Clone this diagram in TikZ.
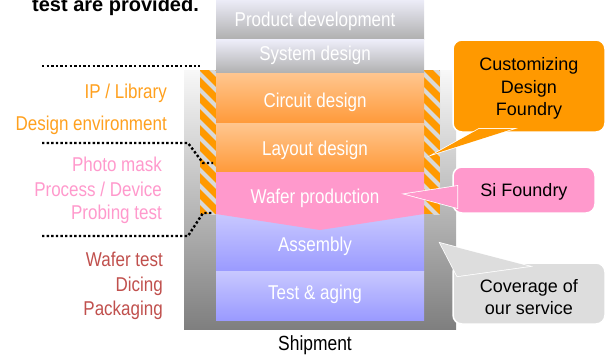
\documentclass[tikz,border=0pt]{standalone}
\usepackage{fontspec}
\setmainfont{Liberation Sans}
\newfontfamily\narrowsans{Liberation Sans}[FakeStretch=0.85]
\usetikzlibrary{calc}
\definecolor{steplight}{HTML}{EFEFFB}
\definecolor{stepgray}{HTML}{B0B0B0}
\definecolor{designlight}{HTML}{FFC68F}
\definecolor{designorange}{HTML}{FF9A3A}
\definecolor{waferpink}{HTML}{FF99CC}
\definecolor{backlight}{HTML}{C8C8FF}
\definecolor{backblue}{HTML}{9A9AFF}
\definecolor{covtop}{HTML}{F8F8F8}
\definecolor{covbottom}{HTML}{7F7F7F}
\definecolor{hatchorange}{HTML}{FF9900}
\definecolor{hatchgray}{HTML}{D9D9D9}
\definecolor{ipcolor}{HTML}{FFA01E}
\definecolor{maskcolor}{HTML}{FF99CC}
\definecolor{pkgcolor}{HTML}{C0504D}
\definecolor{calloutgray}{HTML}{DDDDDD}
\begin{document}
\begin{tikzpicture}[x=1pt,y=-1pt,
  bigtext/.style={font=\narrowsans\fontsize{20}{24}\selectfont, inner sep=0pt},
  stagelabel/.style={bigtext, text=white, anchor=base},
  sidelabel/.style={bigtext, anchor=base east},
  calltext/.style={font=\fontsize{18}{22.3}\selectfont, inner sep=0pt, align=center},
  callbox/.style={draw=white, line width=1.5pt, rounded corners=9pt, inner sep=0pt},
  wedgeline/.style={draw=white, line width=1.5pt},
  bracket/.style={line width=2.4pt, dash pattern=on 2.4pt off 2.2pt},
  hatchline/.style={hatchgray, line width=4pt},
]
\useasboundingbox (0,0) rectangle (611,354);

% heading line running off the top edge
\node[font=\bfseries\fontsize{20}{24}\selectfont, anchor=base west, inner sep=0pt] (head) at (32,11) {test are provided.};

% shaded area of the service coverage
\shade[top color=covtop, bottom color=covbottom] (184,70) rectangle (456,329);

% hatched bands on both sides of the design steps
\foreach \bx in {200,424}{
  \begin{scope}
    \clip (\bx,70) rectangle ++(16,144);
    \fill[hatchorange] (\bx,70) rectangle ++(16,144);
    \foreach \k in {-2,...,9}
      \draw[hatchline] (\bx-4,70+\k*16) -- ++(24,24);
  \end{scope}
}

% process steps
\shade[top color=steplight, bottom color=stepgray] (216,-2) rectangle (424,39);
\shade[top color=steplight, bottom color=stepgray] (216,39) rectangle (424,73);
\shade[top color=designlight, bottom color=designorange] (216,73) rectangle (424,123);
\shade[top color=designlight, bottom color=designorange] (216,123) rectangle (424,172);
\shade[top color=backlight, bottom color=backblue] (216,214) rectangle (424,271);
\shade[top color=backlight, bottom color=backblue] (216,271) rectangle (424,320);
\fill[waferpink] (216,172) -- (424,172) -- (424,214) -- (320,230) -- (216,214) -- cycle;

\node[stagelabel] (pd)  at (315,26)    {Product development};
\node[stagelabel] (sd)  at (315,60.5)  {System design};
\node[stagelabel] (cd)  at (315,107.3) {Circuit design};
\node[stagelabel] (ld)  at (315,155.7) {Layout design};
\node[stagelabel] (wp)  at (315,203.3) {Wafer production};
\node[stagelabel] (asm) at (315,251.7) {Assembly};
\node[stagelabel] (ta)  at (315,299.3) {Test \& aging};
\node[bigtext, font=\narrowsans\fontsize{20.5}{24}\selectfont, anchor=base] (ship) at (315,350.7) {Shipment};

% dotted brackets separating the service groups
\coordinate (b1s) at (42,66);
\coordinate (b1e) at (200,66);
\coordinate (b2s) at (42,143);
\coordinate (b2k) at (188,143);
\coordinate (b2d) at (203,163);
\coordinate (b2e) at (213,163);
\coordinate (b3s) at (42,236);
\coordinate (b3k) at (188,236);
\coordinate (b3d) at (203,213);
\coordinate (b3e) at (213,213);
\draw[bracket] (b1s) -- (b1e);
\draw[bracket] (b2s) -- (b2k) -- (b2d) -- (b2e);
\draw[bracket] (b3s) -- (b3k) -- (b3d) -- (b3e);

% service items on the left
\node[sidelabel, text=ipcolor]   (ip)   at (167,98.5)  {IP / Library};
\node[sidelabel, text=ipcolor]   (env)  at (167,130)   {Design environment};
\node[sidelabel, text=maskcolor] (mask) at (162,171.7) {Photo mask};
\node[sidelabel, text=maskcolor] (proc) at (162,196)   {Process / Device};
\node[sidelabel, text=maskcolor] (prob) at (162,219.5) {Probing test};
\node[sidelabel, text=pkgcolor]  (wt)   at (163,266.7) {Wafer test};
\node[sidelabel, text=pkgcolor]  (dic)  at (163,291)   {Dicing};
\node[sidelabel, text=pkgcolor]  (pkg)  at (163,315)   {Packaging};

% callout: Customizing Design Foundry
\coordinate (cdftip) at (434,154);
\node[callbox, fill=hatchorange, minimum width=152pt, minimum height=92pt] (cdf) at (529,86) {};
\path[wedgeline, fill=hatchorange] (cdftip) -- ($(cdf.south west)+(27,-4)$) -- ($(cdf.south west)+(61,-4)$) -- cycle;
\fill[hatchorange] (cdftip) -- ($(cdf.south west)+(27,-4)$) -- ($(cdf.south west)+(61,-4)$) -- cycle;
\node[calltext] (cdft) at (529,88.4) {Customizing\\Design\\Foundry};

% callout: Si Foundry
\coordinate (sitip) at (405,194);
\node[callbox, fill=waferpink, minimum width=142pt, minimum height=46pt] (si) at (524,190) {};
\path[wedgeline, fill=waferpink] (sitip) -- ($(si.west)+(5,-4)$) -- ($(si.west)+(5,18)$) -- cycle;
\fill[waferpink] (sitip) -- ($(si.west)+(5,-4)$) -- ($(si.west)+(5,18)$) -- cycle;
\node[calltext, anchor=base] (sit) at (524,196.7) {Si Foundry};

% callout: Coverage of our service
\coordinate (covtip) at (440,243);
\node[callbox, fill=calloutgray, minimum width=152pt, minimum height=61pt] (cov) at (529,293.5) {};
\path[wedgeline, fill=calloutgray] (covtip) -- ($(cov.north west)+(77,4)$) -- ($(cov.north west)+(5,14)$) -- cycle;
\fill[calloutgray] (covtip) -- ($(cov.north west)+(77,4)$) -- ($(cov.north west)+(5,14)$) -- cycle;
\node[calltext] (covt) at (529,297.4) {Coverage of\\our service};
\end{tikzpicture}
\end{document}
